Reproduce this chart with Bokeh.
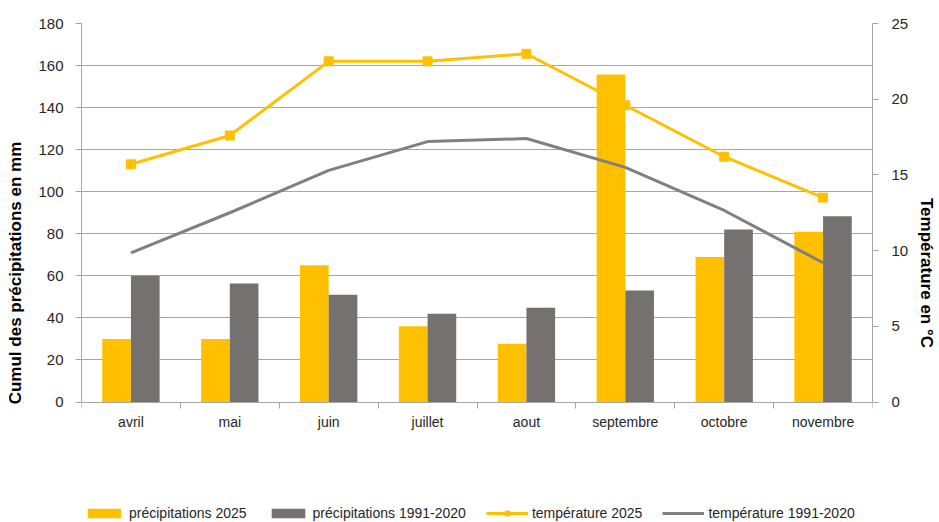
from bokeh.plotting import figure
from bokeh.models import (Range1d, LinearAxis, FixedTicker, Legend, LegendItem)
from bokeh.embed import file_html
from bokeh.resources import INLINE
import numpy as np

months = ["avril", "mai", "juin", "juillet", "aout", "septembre", "octobre", "novembre"]
precip_2025 = [30, 30, 65, 36, 27.7, 155.8, 69, 81]
precip_ref = [60, 56.4, 51, 42, 44.8, 53, 82, 88.3]
temp_2025 = [15.7, 17.6, 22.5, 22.5, 23.0, 19.6, 16.2, 13.5]
temp_ref = [9.85, 12.5, 15.3, 17.2, 17.4, 15.5, 12.65, 9.2]
series_labels = ["précipitations 2025", "précipitations 1991-2020",
                 "température 2025", "température 1991-2020"]
PMAX, TMAX = 180, 25

YELLOW = "#FFC000"
GRAYBAR = "#767171"
GRAYLINE = "#808080"
AXIS = "#a6a6a6"
TXT = "#262626"
FONT = "Liberation Sans"

# layout (pixels): frame runs to the bottom of the canvas so the legend fits inside it;
# the value 0 sits at ZERO_PX from the top.
W, H, TOP, LEFT, RIGHT, ZERO_PX = 939, 522, 23, 81, 66, 401.5
below_px = H - ZERO_PX
p_start = -below_px * PMAX / (ZERO_PX - TOP)
t_start = -below_px * TMAX / (ZERO_PX - TOP)

xs = np.arange(len(months)) + 0.5

p = figure(width=W, height=H, output_backend="svg", toolbar_location=None,
           x_range=Range1d(0, len(months)), y_range=Range1d(p_start, PMAX),
           min_border_left=LEFT, min_border_right=RIGHT, min_border_top=TOP,
           min_border_bottom=0)
p.outline_line_color = None
p.extra_y_ranges = {"temp": Range1d(t_start, TMAX)}

b1 = p.vbar(x=xs - 0.145, top=precip_2025, width=0.29, fill_color=YELLOW, line_color=None)
b2 = p.vbar(x=xs + 0.145, top=precip_ref, width=0.29, fill_color=GRAYBAR, line_color=None)
l1 = p.line(x=xs, y=temp_2025, y_range_name="temp", line_color=YELLOW, line_width=3)
s1 = p.scatter(x=xs, y=temp_2025, y_range_name="temp", marker="square", size=9,
               fill_color=YELLOW, line_color=YELLOW)
l2 = p.line(x=xs, y=temp_ref, y_range_name="temp", line_color=GRAYLINE, line_width=3)

# x axis drawn at value 0: labels at month centres, ticks at month boundaries
xa = p.xaxis[0]
xa.fixed_location = 0
xa.ticker = FixedTicker(ticks=list(xs), minor_ticks=list(range(len(months) + 1)))
xa.major_label_overrides = {float(x): m for x, m in zip(xs, months)}
xa.major_tick_line_color = None
xa.major_tick_in = 0
xa.major_tick_out = 0
xa.minor_tick_line_color = AXIS
xa.minor_tick_in = 0
xa.minor_tick_out = 6
xa.axis_line_color = AXIS
xa.major_label_text_font = FONT
xa.major_label_text_font_size = "14px"
xa.major_label_text_color = TXT
xa.major_label_standoff = 6

# left y axis
ya = p.yaxis[0]
ya.bounds = (0, PMAX)
ya.ticker = FixedTicker(ticks=list(range(0, PMAX + 1, 20)))
ya.axis_line_color = AXIS
ya.major_tick_line_color = AXIS
ya.major_tick_in = 0
ya.major_tick_out = 6
ya.minor_tick_line_color = None
ya.major_label_text_font = FONT
ya.major_label_text_font_size = "15px"
ya.major_label_text_color = TXT
ya.major_label_standoff = 12
ya.axis_label = "Cumul des précipitations en mm"
ya.axis_label_text_font = FONT
ya.axis_label_text_font_style = "bold"
ya.axis_label_text_font_size = "17px"
ya.axis_label_text_color = "#000000"
ya.axis_label_standoff = 10

# right axis
ra = LinearAxis(y_range_name="temp", ticker=FixedTicker(ticks=list(range(0, TMAX + 1, 5))))
ra.bounds = (0, TMAX)
ra.axis_line_color = AXIS
ra.major_tick_line_color = AXIS
ra.major_tick_in = 0
ra.major_tick_out = 6
ra.minor_tick_line_color = None
ra.major_label_text_font = FONT
ra.major_label_text_font_size = "15px"
ra.major_label_text_color = TXT
ra.major_label_standoff = 13
ra.axis_label = "Température en °C"
ra.axis_label_text_font = FONT
ra.axis_label_text_font_style = "bold"
ra.axis_label_text_font_size = "17px"
ra.axis_label_text_color = "#000000"
ra.axis_label_standoff = 6
p.add_layout(ra, "right")

p.xgrid.grid_line_color = None
p.ygrid.grid_line_color = AXIS
p.ygrid.ticker = FixedTicker(ticks=list(range(20, PMAX + 1, 20)))

legend = Legend(items=[
    LegendItem(label=series_labels[0], renderers=[b1]),
    LegendItem(label=series_labels[1], renderers=[b2]),
    LegendItem(label=series_labels[2], renderers=[l1, s1]),
    LegendItem(label=series_labels[3], renderers=[l2]),
], orientation="horizontal", location=(2, 1))
legend.glyph_width = 42
legend.glyph_height = 12
legend.label_standoff = 4
legend.spacing = 20
legend.padding = 0
legend.margin = 0
legend.border_line_color = None
legend.background_fill_alpha = 0
legend.label_text_font = FONT
legend.label_text_font_size = "14px"
legend.label_text_color = TXT
p.add_layout(legend, "center")

open("out.html", "w").write(file_html(p, INLINE))
